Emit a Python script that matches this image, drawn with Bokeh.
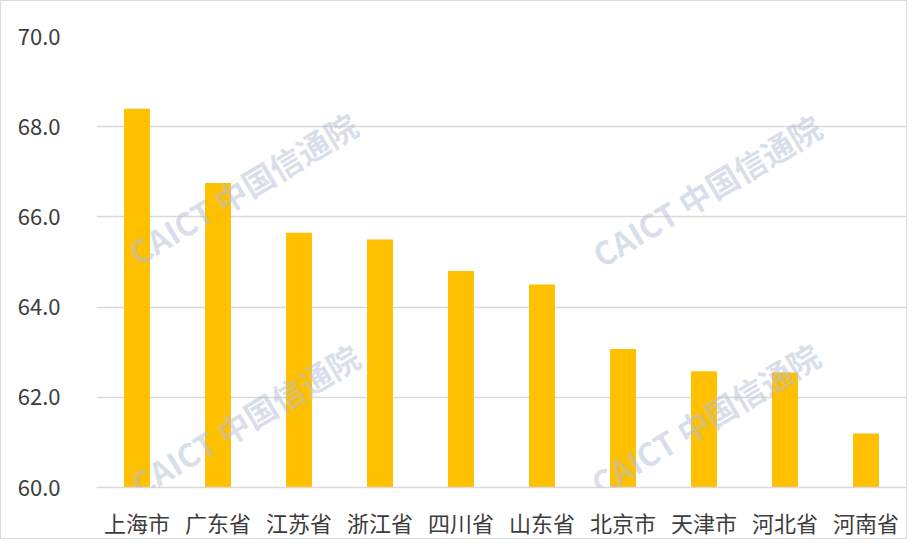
from bokeh.plotting import figure
from bokeh.models import Label, NumeralTickFormatter, FixedTicker, Range1d
from bokeh.embed import file_html
from bokeh.resources import INLINE

regions = ["上海市", "广东省", "江苏省", "浙江省", "四川省", "山东省", "北京市", "天津市", "河北省", "河南省"]
values = [68.4, 66.75, 65.65, 65.5, 64.8, 64.5, 63.07, 62.58, 62.55, 61.2]
y_ticks = [60, 62, 64, 66, 68, 70]

watermark_text = "CAICT 中国信通院"
watermark_x = [1.80, 7.53, 1.83, 7.51]
watermark_y = [66.64, 66.6, 61.51, 61.53]

FONT = "Noto Sans CJK SC"

p = figure(x_range=regions, y_range=Range1d(60, 70), width=907, height=539,
           output_backend="svg", toolbar_location=None,
           min_border_left=95, min_border_right=2, min_border_top=35, min_border_bottom=52)
p.styles = {"border": "1px solid #dcdcdc"}

p.vbar(x=regions, top=values, bottom=60, width=0.32, color="#FFC000", line_color=None)

p.outline_line_color = None
p.xgrid.grid_line_color = None
p.ygrid.grid_line_color = "#d9d9d9"
p.ygrid.grid_line_width = 1.5
p.ygrid.ticker = FixedTicker(ticks=y_ticks)

p.yaxis.ticker = FixedTicker(ticks=y_ticks)
p.yaxis.formatter = NumeralTickFormatter(format="0.0")
p.yaxis.axis_line_color = None
p.yaxis.major_tick_line_color = None
p.yaxis.minor_tick_line_color = None
p.yaxis.major_label_standoff = 30
p.yaxis.major_label_text_font = FONT
p.yaxis.major_label_text_font_size = "22px"
p.yaxis.major_label_text_color = "#3c3c3c"

p.xaxis.axis_line_color = "#d9d9d9"
p.xaxis.axis_line_width = 1.5
p.xaxis.major_tick_line_color = None
p.xaxis.minor_tick_line_color = None
p.xaxis.major_label_standoff = 12
p.xaxis.major_label_text_font = FONT
p.xaxis.major_label_text_font_size = "22px"
p.xaxis.major_label_text_color = "#3c3c3c"

for wx, wy in zip(watermark_x, watermark_y):
    p.add_layout(Label(x=wx, y=wy, text=watermark_text, angle=31, angle_units="deg",
                       text_align="center", text_baseline="middle",
                       text_font=FONT, text_font_size="32px", text_font_style="bold",
                       text_color="#b4bfd6", text_alpha=0.5))

open("out.html", "w").write(file_html(p, INLINE))
